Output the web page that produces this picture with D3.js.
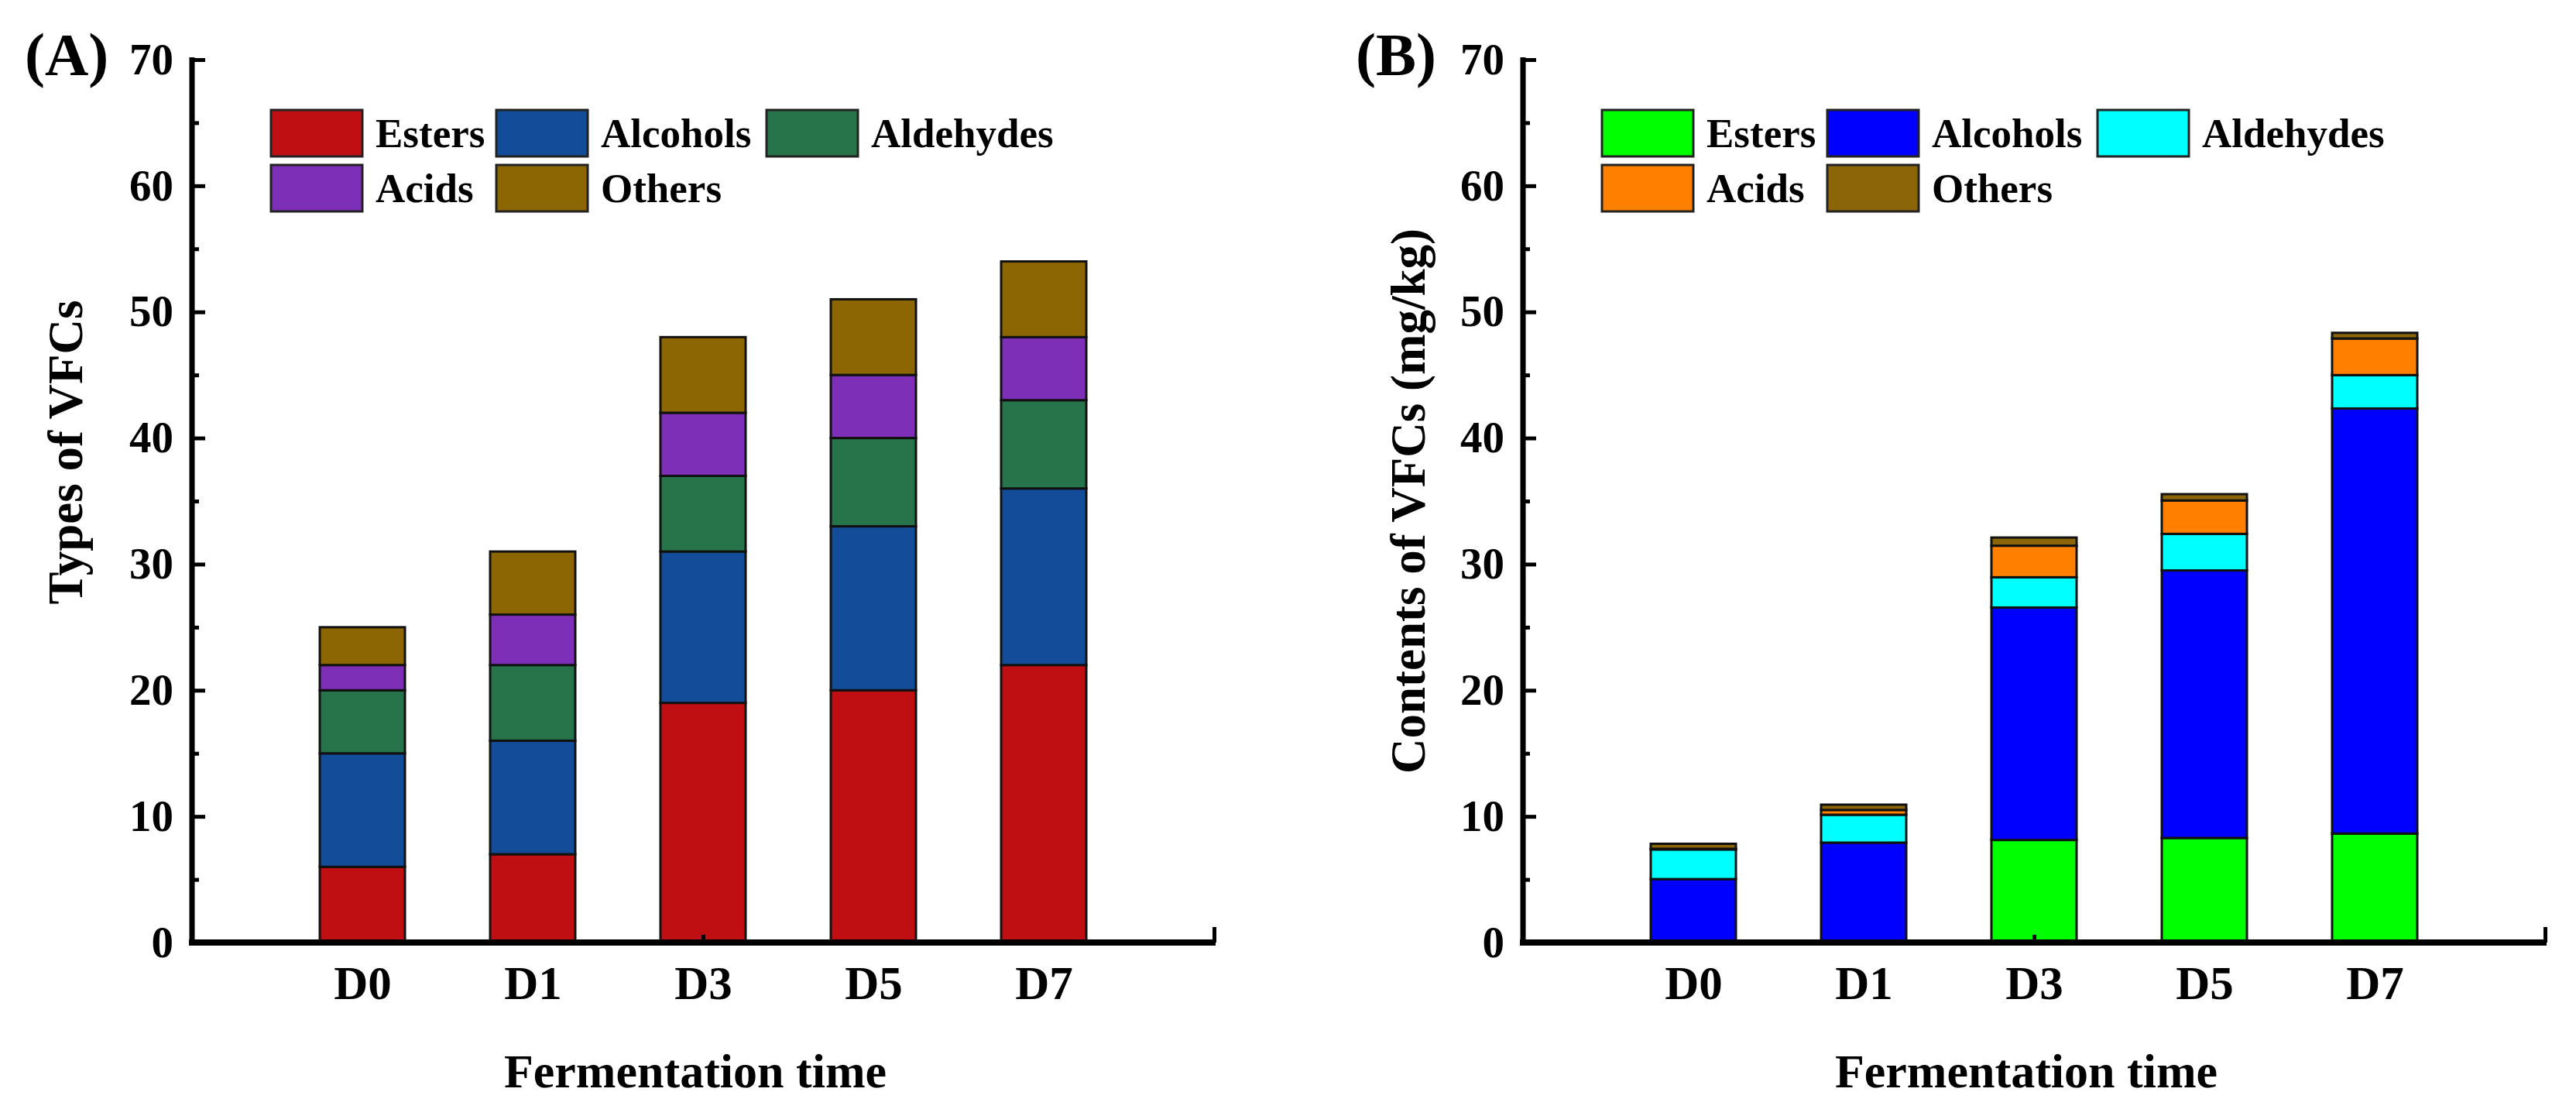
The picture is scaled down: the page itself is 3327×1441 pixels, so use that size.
<!DOCTYPE html>
<html>
<head>
<meta charset="utf-8">
<script src="https://cdn.jsdelivr.net/npm/d3@7/dist/d3.min.js"></script>
<style>
  html, body { margin: 0; padding: 0; background: #ffffff; }
  svg { display: block; }
  text { font-family: "Liberation Serif", "Times New Roman", "DejaVu Serif", serif; font-weight: bold; fill: #000; }
</style>
</head>
<body>
<svg id="chart" width="3327" height="1441"></svg>
<script>
// ---------- data ----------
const categories = ["D0", "D1", "D3", "D5", "D7"];
const seriesNames = ["Esters", "Alcohols", "Aldehydes", "Acids", "Others"];

// Panel A: number of compound types
const typesEsters    = [6, 7, 19, 20, 22];
const typesAlcohols  = [9, 9, 12, 13, 14];
const typesAldehydes = [5, 6, 6, 7, 7];
const typesAcids     = [2, 4, 5, 5, 5];
const typesOthers    = [3, 5, 6, 6, 6];

// Panel B: contents (mg/kg)
const contEsters    = [0, 0, 8.13, 8.29, 8.64];
const contAlcohols  = [5.03, 7.92, 18.43, 21.21, 33.7];
const contAldehydes = [2.35, 2.21, 2.4, 2.9, 2.65];
const contAcids     = [0.05, 0.38, 2.5, 2.65, 2.9];
const contOthers    = [0.4, 0.42, 0.65, 0.5, 0.45];

const yTicks = [0, 10, 20, 30, 40, 50, 60, 70];
const yMinorTicks = [5, 15, 25, 35, 45, 55, 65];

const colorsA = ["#C00F13", "#134C98", "#27744A", "#7E2FB8", "#8B6603"];
const colorsB = ["#00FF00", "#0000FF", "#00FFFF", "#FF8000", "#8B6508"];

// ---------- drawing ----------
const svg = d3.select("#chart");

function drawPanel(cfg) {
  const ax = cfg.axisX;          // y-axis x position
  const yBottom = 1217, yTop = 77;
  const x = d3.scaleLinear().domain([0, 6]).range([ax, ax + 1320]);
  const y = d3.scaleLinear().domain([0, 70]).range([yBottom, yTop]);
  const barW = 110;

  const g = svg.append("g");

  const rows = categories.map((c, i) => {
    const r = { cat: c, idx: i };
    seriesNames.forEach((s, k) => { r[s] = cfg.values[k][i]; });
    return r;
  });
  const stacked = d3.stack().keys(seriesNames)(rows);

  // bars
  g.append("g").selectAll("g")
    .data(stacked)
    .join("g")
      .attr("fill", (d, k) => cfg.colors[k])
    .selectAll("rect")
    .data(d => d)
    .join("rect")
      .attr("x", d => x(d.data.idx + 1) - barW / 2)
      .attr("width", barW)
      .attr("y", d => y(d[1]))
      .attr("height", d => Math.max(0, y(d[0]) - y(d[1])))
      .attr("stroke", "#111")
      .attr("stroke-width", 3);

  // y axis (ticks pointing inward)
  const yAxis = d3.axisLeft(y).tickValues(yTicks).tickSizeInner(-17).tickSizeOuter(0).tickPadding(24);
  const gy = g.append("g").attr("transform", `translate(${ax},0)`).call(yAxis);
  gy.select(".domain").attr("stroke", "#000").attr("stroke-width", 7).attr("d", `M0,${yBottom + 4}V${yTop - 3}`);
  gy.selectAll(".tick line").attr("stroke", "#000").attr("stroke-width", 5);
  gy.selectAll(".tick text").attr("font-size", 57).style("font-family", "'Liberation Serif','Times New Roman',serif").style("font-weight", "bold");

  const yMinor = d3.axisLeft(y).tickValues(yMinorTicks).tickSizeInner(-9).tickSizeOuter(0).tickFormat("");
  const gym = g.append("g").attr("transform", `translate(${ax},0)`).call(yMinor);
  gym.select(".domain").remove();
  gym.selectAll(".tick line").attr("stroke", "#000").attr("stroke-width", 5);

  // x axis
  const xAxis = d3.axisBottom(x).tickValues([1, 2, 3, 4, 5]).tickFormat(i => categories[i - 1]).tickSize(0);
  const gx = g.append("g").attr("transform", `translate(0,${yBottom})`).call(xAxis);
  gx.select(".domain").attr("stroke", "#000").attr("stroke-width", 8).attr("d", `M${ax - 4},0H${ax + 1322}`);
  gx.selectAll(".tick text").attr("y", 73).attr("dy", null).attr("font-size", 61)
    .style("font-family", "'Liberation Serif','Times New Roman',serif").style("font-weight", "bold");

  const xTickAxis = d3.axisBottom(x).tickValues([3, 6]).tickFormat("").tickSizeOuter(0).tickSizeInner(-1);
  const gxt = g.append("g").attr("transform", `translate(0,${yBottom})`).call(xTickAxis);
  gxt.select(".domain").remove();
  gxt.selectAll(".tick line").attr("stroke", "#000").attr("stroke-width", 5)
    .attr("y2", v => v === 6 ? -20 : -10);

  // axis titles
  g.append("text")
    .attr("transform", `translate(${ax + 650},1404)`)
    .attr("text-anchor", "middle")
    .attr("font-size", 62)
    .text("Fermentation time");

  g.append("text")
    .attr("transform", `translate(${cfg.yTitleX},${cfg.yTitleY}) rotate(-90)`)
    .attr("text-anchor", "middle")
    .attr("font-size", 63)
    .text(cfg.yTitle);

  // panel label
  g.append("text")
    .attr("x", ax - 216)
    .attr("y", 97)
    .attr("font-size", 78)
    .text(cfg.label);

  // legend (three columns, two rows)
  const lg = g.append("g");
  const swW = 118, swH = 60, rowY = [142, 213], textOff = 135;
  const colX = [102, 393, 742];
  const cols = [[0, 3], [1, 4], [2]];
  cols.forEach((col, c) => {
    const cx = ax + colX[c];
    col.forEach((k, r) => {
      lg.append("rect")
        .attr("x", cx).attr("y", rowY[r])
        .attr("width", swW).attr("height", swH)
        .attr("fill", cfg.colors[k])
        .attr("stroke", "#222").attr("stroke-width", 3);
      lg.append("text")
        .attr("x", cx + textOff).attr("y", rowY[r] + 48)
        .attr("font-size", 53)
        .text(seriesNames[k]);
    });
  });
}

drawPanel({
  axisX: 248,
  values: [typesEsters, typesAlcohols, typesAldehydes, typesAcids, typesOthers],
  colors: colorsA,
  yTitle: "Types of VFCs",
  yTitleX: 106, yTitleY: 584,
  label: "(A)"
});

drawPanel({
  axisX: 1967,
  values: [contEsters, contAlcohols, contAldehydes, contAcids, contOthers],
  colors: colorsB,
  yTitle: "Contents of VFCs (mg/kg)",
  yTitleX: 1840, yTitleY: 647,
  label: "(B)"
});
</script>
</body>
</html>
